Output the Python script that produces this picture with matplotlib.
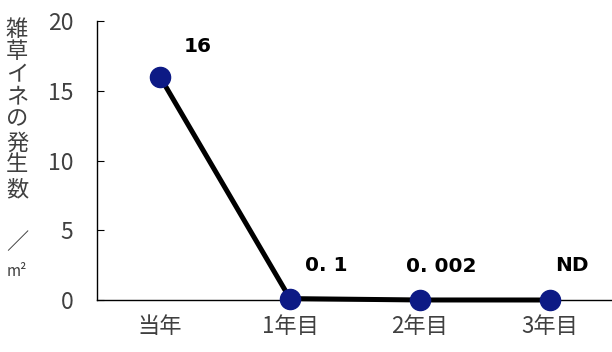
import matplotlib
matplotlib.use("Agg")
import matplotlib.pyplot as plt

plt.rcParams['font.family'] = ['Noto Sans CJK JP', 'DejaVu Sans']

years = ['当年', '1年目', '2年目', '3年目']
counts = [16, 0.1, 0.002, 0]
point_labels = ['16', '0. 1', '0. 002', 'ND']
label_offsets = [(27, 22), (26, 24), (15, 24), (16, 25)]  # points
ylabel_chars = ['雑', '草', 'イ', 'ネ', 'の', '発', '生', '数', '／', 'm²']
ylabel_ypix = [30, 52, 75, 97, 119, 143, 165, 190, 243, 271]

fig = plt.figure(figsize=(6.12, 3.52), dpi=100)
ax = fig.add_axes([97 / 612, 52 / 352, 1 - 97 / 612, (300 - 21) / 352])

x = list(range(len(years)))
ax.plot(x, counts, color='black', linewidth=3.6, marker='o',
        markersize=14.5, markerfacecolor='#0d1a85', markeredgecolor='#0d1a85',
        clip_on=False, zorder=3)

for xi, yi, lab, off in zip(x, counts, point_labels, label_offsets):
    ax.annotate(lab, (xi, yi), xytext=off, textcoords='offset points',
                ha='center', va='center', fontsize=14.5, fontweight='bold',
                family='DejaVu Sans', color='black')

ax.set_xlim(-0.485, 3.477)
ax.set_ylim(0, 20)
ax.set_yticks([0, 5, 10, 15, 20])
ax.set_xticks(x)
ax.set_xticklabels(years)

ax.spines['top'].set_visible(False)
ax.spines['right'].set_visible(False)
ax.spines['left'].set_linewidth(1.0)
ax.spines['bottom'].set_linewidth(1.0)
ax.tick_params(axis='y', direction='in', length=5, pad=17, labelsize=16.5,
               labelcolor='#404040')
ax.tick_params(axis='x', length=0, pad=11, labelsize=16, labelcolor='#404040')

for ch, yp in zip(ylabel_chars, ylabel_ypix):
    fig.text(17 / 612, 1 - yp / 352, ch, ha='center', va='center',
             fontsize=16 if ch != 'm²' else 11, color='#404040')

fig.savefig('out.png', dpi=100)
